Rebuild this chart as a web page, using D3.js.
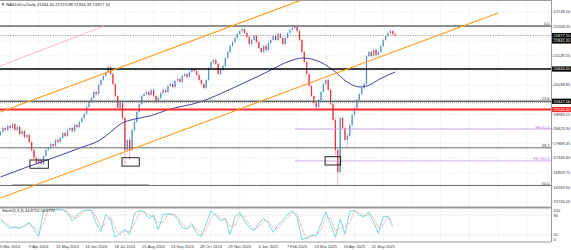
<!DOCTYPE html>
<html>
<head>
<meta charset="utf-8">
<script src="https://cdn.jsdelivr.net/npm/d3@7"></script>
<style>
  body { margin: 0; background: #fff; }
  svg { display: block; font-family: "Liberation Sans", Arial, sans-serif; }
</style>
</head>
<body>
<svg id="chart" width="571" height="250"></svg>
<script>
// ---- data ----
// one bar = two trading days, bar 4 = 5 Mar 2024
const closes = [18311,18459,18385,18533,18459,18607,18385,18496,18237,18348,
  18126,18200,17941,17646,17350,17165,17276,17128,17424,17646,
  17720,17867,17793,18015,17941,18089,18274,18163,18385,18459,
  18348,18570,18496,18681,18829,18977,19236,19420,19568,19790,
  19716,20049,20234,20382,20530,20715,20456,20086,19642,19199,
  19420,18829,17646,18015,17646,18385,18681,19051,19346,19642,
  19716,19790,19679,19864,19642,19420,19568,19753,19864,19790,
  20012,20086,19975,20197,20271,20160,20382,20456,20345,20530,
  20641,20567,20419,20234,20086,19938,20234,20678,20899,20973,
  20825,20456,20604,20751,21047,21269,21491,21639,21787,21935,
  22046,22120,21972,21824,21565,21713,21861,21639,21417,21269,
  21491,21343,21602,21713,21861,21713,21935,21787,21565,21787,
  21972,22083,22157,22194,22046,21713,21269,20899,20456,20012,
  19642,19383,19236,19494,19790,20086,20234,19864,19346,18755,
  17646,16832,18829,18459,18015,18163,18570,18940,19199,19494,
  19716,19938,20086,21121,21269,21121,21343,21158,21269,21491,
  21713,21861,21972,22046,21935,21877.10];
const firstOpen = 18200;

// long wicks that stand out
const wickBars  = [16, 45, 52, 54, 101, 123, 140, 141, 145];
const wickHighs = [17350, 20789, 18900, 18080, 22180, 22230, 18850, 17700, 18250];
const wickLows  = [16980, 20480, 17091, 17276, 21990, 22100, 17450, 16351, 17720];

// moving average (navy line)
const maBars   = [0, 12.3, 20.7, 33.2, 41.6, 46.6, 50, 56.2, 62.5, 69.6, 83.4, 97.2, 111.4, 121, 126.5, 133.6, 139, 144.9, 150.3, 153.2, 158.6, 165];
const maValues = [16647, 17054, 17313, 17720, 18015, 18350, 18600, 18792, 18903, 19125, 19420, 19938, 20530, 20936, 21047, 20899, 20604, 20160, 19975, 20012, 20271, 20530];

// stochastic, one value every second bar
const stochMain = [65,52,40,44,40,49,58,35,16,92,
  99,95,97,96,87,62,80,92,96,94,
  55,30,82,66,12,27,36,22,85,94,
  90,70,80,35,82,84,82,68,42,38,
  55,25,14,55,92,80,62,70,20,75,
  88,62,42,32,56,70,55,28,50,64,
  83,93,75,6,10,20,18,55,90,52,
  12,68,22,92,94,80,75,90,58,25,
  75,76,44.8755];
const stochSignal = [68,58,46,42,42,45,54,46,26,54,
  95,97,96,96,91,74,71,86,94,95,
  75,42,56,74,39,20,32,29,54,89,
  92,80,75,58,58,83,83,75,55,40,
  46,40,20,34,73,86,71,66,45,48,
  81,75,52,37,44,63,62,42,39,57,
  73,88,84,40,8,15,19,36,72,71,
  32,40,45,57,93,87,78,82,74,42,
  50,75,58.6772];
const stochLevels = [80, 20];
const stochTicks = [100, 80, 20, 0];

// axis labels
const dateLabels = ["5 Mar 2024","9 Apr 2024","13 May 2024","14 Jun 2024","18 Jul 2024","21 Aug 2024",
  "24 Sep 2024","28 Oct 2024","29 Nov 2024","6 Jan 2025","7 Feb 2025","13 Mar 2025","16 Apr 2025","21 May 2025"];
const priceTicks = [15730.05,16269.90,16809.75,17349.60,17889.45,18429.30,18969.15,
  19509.00,20048.85,20588.70,21128.55,21668.40,22208.25,22748.10];

// drawn objects
const fibHigh = 22230, fibLow = 10440;
const fibRatios = [0, 23.6, 38.2, 50.0];
const feA = 22230, feB = 19141, feC = 20329, feStartBar = 123;
const feRatios = [61.8, 100.0];
const blackLevel = 20640;
const redLevel = 19141;
const dottedLevel = 19400;
const quoteBoxes = [21877.10, 21841.30];
const channelBars = [0, 208], channelPrices = [15871, 22711], channelWidth = 3180;
const pinkBars = [-30, 43.3], pinkPrices = [19730, 22230];
const grayBars = [5, 62], grayPrice = 16350;
const boxBars   = [[12.3, 20], [50.8, 58], [135.7, 142.2]];
const boxPrices = [[17276, 16971], [17361, 17050], [17398, 17091]];
const header = "NAS100.a,Daily  21944.40 21723.88 21934.33 21877.10";

// ---- layout ----
const axisX = 551;
const mainTop = 1, mainBottom = 207;
const stochTop = 208.5, stochBottom = 241.5;
const fmt = d3.format(".2f");

const svg = d3.select('#chart');
const x = d3.scaleLinear().domain([0, 230]).range([0.5, 0.5 + 230 * 2.392]);
const y = d3.scaleLinear().domain([15730.05, 22748.10]).range([201.8, 12]);
const ys = d3.scaleLinear().domain([0, 100]).range([stochBottom, stochTop]);

const defs = svg.append('defs');
defs.append('clipPath').attr('id', 'mainClip').append('rect')
  .attr('x', 0).attr('y', mainTop).attr('width', axisX).attr('height', mainBottom - mainTop);
defs.append('clipPath').attr('id', 'stochClip').append('rect')
  .attr('x', 0).attr('y', stochTop).attr('width', axisX).attr('height', stochBottom - stochTop);

// grid
const grid = svg.append('g').attr('stroke', '#bfe0e0').attr('stroke-width', 0.6).attr('stroke-dasharray', '1,1.5');
const gridBars = d3.range(19).map(k => 4 + 12 * k);
grid.selectAll('.vg').data(gridBars).enter().append('line')
  .attr('x1', d => x(d)).attr('x2', d => x(d)).attr('y1', mainTop).attr('y2', stochBottom);
grid.selectAll('.hg').data(priceTicks).enter().append('line')
  .attr('x1', 0).attr('x2', axisX).attr('y1', d => y(d)).attr('y2', d => y(d));
grid.selectAll('.sg').data(stochLevels).enter().append('line')
  .attr('x1', 0).attr('x2', axisX).attr('y1', d => ys(d)).attr('y2', d => ys(d))
  .attr('stroke', '#b8b8b8');

// candles
const bars = closes.map((c, i) => {
  const o = i === 0 ? firstOpen : closes[i - 1];
  const w = wickBars.indexOf(i);
  return { i, o, c, hi: w >= 0 ? wickHighs[w] : null, lo: w >= 0 ? wickLows[w] : null };
});
const main = svg.append('g').attr('clip-path', 'url(#mainClip)');
const candles = main.append('g');
candles.selectAll('.wick').data(bars).enter().append('line')
  .attr('x1', d => x(d.i)).attr('x2', d => x(d.i))
  .attr('y1', d => d.hi ? y(d.hi) : y(Math.max(d.o, d.c)) - 1.3)
  .attr('y2', d => d.lo ? y(d.lo) : y(Math.min(d.o, d.c)) + 1.3)
  .attr('stroke', d => d.c >= d.o ? '#a4c6ea' : '#f4a3a8')
  .attr('stroke-width', 0.8);
candles.selectAll('.body').data(bars).enter().append('rect')
  .attr('x', d => x(d.i) - 0.65).attr('width', 1.3)
  .attr('y', d => y(Math.max(d.o, d.c)))
  .attr('height', d => Math.max(0.6, Math.abs(y(d.o) - y(d.c))))
  .attr('fill', d => d.c >= d.o ? '#5b90cc' : '#e8363d');

// moving average
main.append('path')
  .datum(maBars.map((b, k) => [b, maValues[k]]))
  .attr('fill', 'none').attr('stroke', '#2d2d9a').attr('stroke-width', 0.9)
  .attr('d', d3.line().x(d => x(d[0])).y(d => y(d[1])).curve(d3.curveMonotoneX));

// horizontal levels
const hline = (v, color, width, dash) => main.append('line')
  .attr('x1', 0).attr('x2', axisX).attr('y1', y(v)).attr('y2', y(v))
  .attr('stroke', color).attr('stroke-width', width).attr('stroke-dasharray', dash || null);

main.append('line')
  .attr('x1', x(grayBars[0])).attr('x2', x(grayBars[1]))
  .attr('y1', y(grayPrice)).attr('y2', y(grayPrice))
  .attr('stroke', '#b4b4b4').attr('stroke-width', 2);

const fibValues = fibRatios.map(r => fibHigh - r / 100 * (fibHigh - fibLow));
fibValues.forEach((v, k) => hline(v, '#6a6a6a', k < 2 ? 1.4 : 1));
hline(dottedLevel, '#888', 0.8, '1,1');
hline(blackLevel, '#000', 1.6);
hline(redLevel, '#ff2a2a', 2);
hline(quoteBoxes[0], '#8c8c8c', 0.7, '1.5,1');

const feValues = feRatios.map(r => feC - r / 100 * (feA - feB));
feValues.forEach(v => main.append('line')
  .attr('x1', x(feStartBar)).attr('x2', axisX).attr('y1', y(v)).attr('y2', y(v))
  .attr('stroke', '#c9a2dc').attr('stroke-width', 0.9));

// channel and trendline
const lineXY = d3.line().x(d => x(d[0])).y(d => y(d[1]));
[0, channelWidth].forEach(off => main.append('path')
  .datum(channelBars.map((b, k) => [b, channelPrices[k] + off]))
  .attr('fill', 'none').attr('stroke', '#ff9c1f').attr('stroke-width', 1.2).attr('d', lineXY));
main.append('path')
  .datum(pinkBars.map((b, k) => [b, pinkPrices[k]]))
  .attr('fill', 'none').attr('stroke', '#f6a9b0').attr('stroke-width', 0.8).attr('d', lineXY);

// rectangles
main.selectAll('.box').data(boxBars).enter().append('rect')
  .attr('x', d => x(d[0])).attr('width', d => x(d[1]) - x(d[0]))
  .attr('y', (d, k) => y(boxPrices[k][0]))
  .attr('height', (d, k) => y(boxPrices[k][1]) - y(boxPrices[k][0]))
  .attr('fill', 'none').attr('stroke', '#111').attr('stroke-width', 0.9);

// level captions
const cap = svg.append('g').attr('font-size', 4).attr('text-anchor', 'end');
fibValues.forEach((v, k) => cap.append('text')
  .attr('x', axisX - 1.5).attr('y', y(v) - 0.8).attr('fill', '#444').text(fibRatios[k].toFixed(1)));
feValues.forEach((v, k) => cap.append('text')
  .attr('x', axisX - 1.5).attr('y', y(v) - 0.5).attr('fill', '#b27fcc').text('FE ' + feRatios[k].toFixed(1)));

// stochastic
const stoch = svg.append('g').attr('clip-path', 'url(#stochClip)');
const sLine = d3.line().x((d, k) => x(2 * k)).y(d => ys(d)).curve(d3.curveLinear);
stoch.append('path').datum(stochSignal)
  .attr('fill', 'none').attr('stroke', '#f08c8c').attr('stroke-width', 0.8)
  .attr('stroke-dasharray', '1.2,0.8').attr('d', sLine);
stoch.append('path').datum(stochMain)
  .attr('fill', 'none').attr('stroke', '#5ccfd0').attr('stroke-width', 0.8).attr('d', sLine);

// frames
const frame = svg.append('g').attr('stroke', '#9a9a9a');
frame.append('line').attr('x1', 0).attr('x2', axisX).attr('y1', 0.5).attr('y2', 0.5);
frame.append('line').attr('x1', axisX + 0.5).attr('x2', axisX + 0.5).attr('y1', 0).attr('y2', stochBottom + 0.5);
frame.append('line').attr('x1', 0).attr('x2', axisX).attr('y1', 207.5).attr('y2', 207.5).attr('stroke-width', 1.8);
frame.append('line').attr('x1', 0).attr('x2', axisX).attr('y1', stochBottom + 0.5).attr('y2', stochBottom + 0.5);

// right price axis
const boxes = [
  { v: blackLevel, fill: '#000' },
  { v: fibValues[1], fill: '#000' },
  { v: redLevel, fill: '#ff2a2a' }
];
quoteBoxes.forEach((v, k) => boxes.push({ v, fill: '#000', stack: k }));
boxes.forEach(b => { b.cy = y(b.v); });
boxes.filter(b => b.stack > 0).forEach(b => { b.cy = y(quoteBoxes[0]) + 5.4 * b.stack; });

const axis = svg.append('g').attr('font-size', 4).attr('fill', '#333');
const shownTicks = priceTicks.filter(t => boxes.every(b => Math.abs(y(t) - b.cy) > 4.2));
axis.selectAll('.tk').data(shownTicks).enter().append('line')
  .attr('x1', axisX).attr('x2', axisX + 2).attr('y1', d => y(d)).attr('y2', d => y(d))
  .attr('stroke', '#777').attr('stroke-width', 0.5);
axis.selectAll('.tl').data(shownTicks).enter().append('text')
  .attr('x', axisX + 2.5).attr('y', d => y(d) + 1.4).text(d => fmt(d));
axis.selectAll('.bx').data(boxes).enter().append('rect')
  .attr('x', axisX + 1).attr('width', 19.5).attr('y', d => d.cy - 2.6).attr('height', 5.2)
  .attr('fill', d => d.fill);
axis.selectAll('.bt').data(boxes).enter().append('text')
  .attr('x', axisX + 2.5).attr('y', d => d.cy + 1.4).attr('fill', '#fff').text(d => fmt(d.v));

axis.selectAll('.st').data(stochTicks).enter().append('text')
  .attr('x', axisX + 2.5)
  .attr('y', d => Math.min(Math.max(ys(d), stochTop + 2), stochBottom - 2) + 1.4)
  .text(d => d);

// date axis
svg.append('g').attr('font-size', 4).attr('fill', '#333').attr('text-anchor', 'middle')
  .selectAll('text').data(dateLabels).enter().append('text')
  .attr('x', (d, k) => x(4 + 12 * k)).attr('y', 247.8).text(d => d);

// captions
svg.append('path').attr('d', 'M1.5,3.5 L4.5,3.5 L3,6 Z').attr('fill', '#555');
svg.append('text').attr('x', 6).attr('y', 6.3).attr('font-size', 4.2).attr('fill', '#222').text(header);
svg.append('text').attr('x', 2).attr('y', 212.3).attr('font-size', 4).attr('fill', '#222')
  .text('Stoch(5,3,3) ' + stochMain[stochMain.length - 1].toFixed(4) + ' ' + stochSignal[stochSignal.length - 1].toFixed(4));
</script>
</body>
</html>
